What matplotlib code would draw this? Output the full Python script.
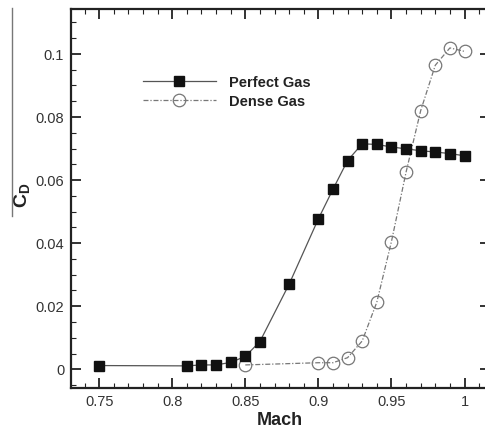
import matplotlib
matplotlib.use("Agg")
import matplotlib.pyplot as plt
from matplotlib.lines import Line2D
from matplotlib.ticker import MultipleLocator, FuncFormatter

plt.rcParams["font.family"] = ["Liberation Sans", "DejaVu Sans"]
plt.rcParams["mathtext.fontset"] = "custom"
plt.rcParams["mathtext.rm"] = "Liberation Sans"
plt.rcParams["mathtext.bf"] = "Liberation Sans:bold"

# Perfect gas
mach_perfect = [0.75, 0.81, 0.82, 0.83, 0.84, 0.85, 0.86, 0.88, 0.90, 0.91,
                0.92, 0.93, 0.94, 0.95, 0.96, 0.97, 0.98, 0.99, 1.00]
cd_perfect = [0.0012, 0.0011, 0.0014, 0.0014, 0.0022, 0.0041, 0.0088, 0.0270,
              0.0477, 0.0571, 0.0662, 0.0715, 0.0713, 0.0705, 0.0699, 0.0693,
              0.0689, 0.0684, 0.0677]

# Dense gas
mach_dense = [0.85, 0.90, 0.91, 0.92, 0.93, 0.94, 0.95, 0.96, 0.97, 0.98, 0.99, 1.00]
cd_dense = [0.0014, 0.0021, 0.0021, 0.0037, 0.0090, 0.0213, 0.0405, 0.0625,
            0.0820, 0.0964, 0.1019, 0.1008]

fig = plt.figure(figsize=(4.855, 4.305), dpi=100, facecolor="white")
# right spine sits just past the image edge, as in the original crop
ax = fig.add_axes([71 / 485, 0.0984, 418 / 485, 0.880])

ax.plot(mach_perfect, cd_perfect, "-", color="#555555", lw=0.9,
        marker="s", ms=7, mfc="#111111", mec="#111111", label="Perfect Gas", zorder=3)
ax.plot(mach_dense, cd_dense, linestyle=(0, (4, 1.5, 1, 1.5)), color="#777777", lw=0.9,
        marker="o", ms=9, mfc="none", mec="#777777", mew=0.9, label="Dense Gas", zorder=2)

ax.set_xlim(0.7308, 1.0171)
ax.set_ylim(-0.0058, 0.1143)

ax.xaxis.set_major_locator(MultipleLocator(0.05))
ax.xaxis.set_minor_locator(MultipleLocator(0.01))
ax.yaxis.set_major_locator(MultipleLocator(0.02))
ax.yaxis.set_minor_locator(MultipleLocator(0.005))
ax.xaxis.set_major_formatter(FuncFormatter(lambda v, p: f"{v:g}"))
ax.yaxis.set_major_formatter(FuncFormatter(lambda v, p: "0" if abs(v) < 1e-9 else f"{v:g}"))

ax.tick_params(which="both", direction="in", top=True, right=True,
               colors="#222222", labelcolor="#333333", labelsize=10.5)
ax.tick_params(which="major", length=7, width=1.3, pad=5)
ax.tick_params(which="minor", length=3.5, width=0.8)
for s in ax.spines.values():
    s.set_linewidth(1.6)
    s.set_color("#222222")

ax.set_xlabel("Mach", fontsize=13, fontweight="bold", color="#222222", labelpad=2)
ax.set_ylabel(r"$\mathbf{C_D}$", fontsize=14, color="#222222")
ax.yaxis.set_label_coords(-0.094, 0.51)

ax.legend(loc="upper left", bbox_to_anchor=(0.1716, 0.825), frameon=False,
          borderpad=0, borderaxespad=0, handlelength=5.0, handletextpad=0.9,
          labelspacing=0.35, prop={"weight": "bold", "size": 10.5}, labelcolor="#222222")

# thin vertical rule at the left edge of the original figure
fig.add_artist(Line2D([12 / 485, 12 / 485], [1 - 8 / 430, 1 - 216 / 430],
                      color="#777777", lw=1.0))

fig.savefig("out.png", dpi=100, facecolor="white")
